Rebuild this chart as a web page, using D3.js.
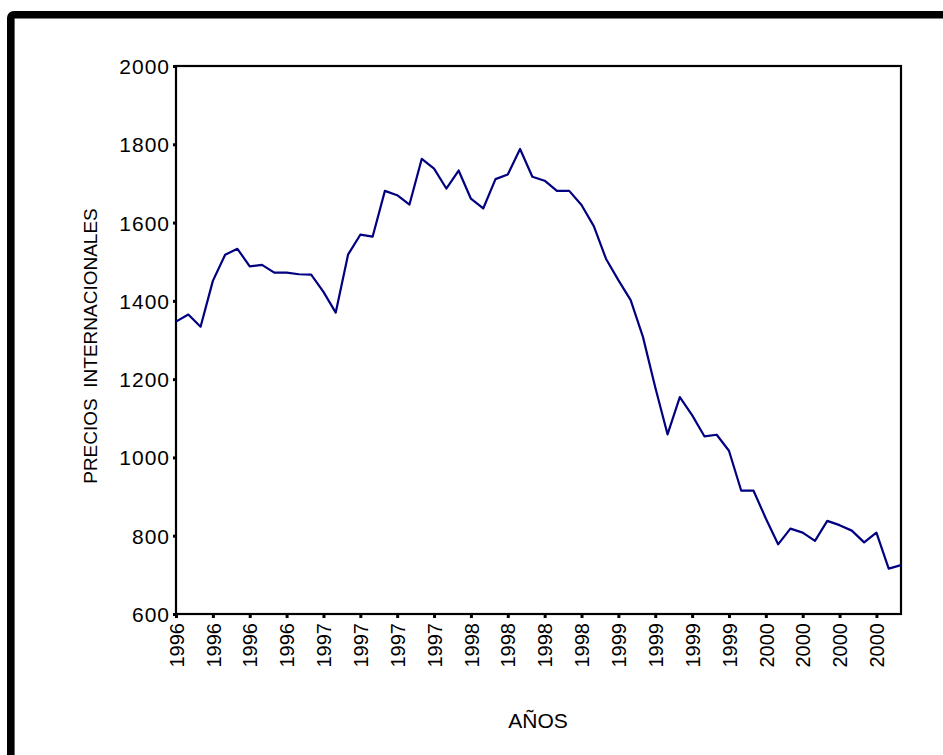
<!DOCTYPE html>
<html>
<head>
<meta charset="utf-8">
<script src="https://cdn.jsdelivr.net/npm/d3@7"></script>
<style>
  html, body { margin: 0; padding: 0; background: #fff; }
  svg { display: block; }
  text { font-family: "Liberation Sans", Arial, sans-serif; fill: #000; }
</style>
</head>
<body>
<svg id="chart" width="943" height="755"></svg>
<script>
// Monthly international prices, Jan 1996 – Dec 2000
const months = d3.range(60);
const prices = [
  1347, 1365, 1334, 1451, 1518, 1533, 1488, 1492, 1472, 1472, 1468, 1467,
  1423, 1370, 1518, 1569, 1564, 1681, 1670, 1646, 1763, 1738, 1687, 1733,
  1661, 1636, 1711, 1723, 1788, 1717, 1707, 1681, 1681, 1645, 1591, 1507,
  1453, 1402, 1308, 1179, 1059, 1154, 1108, 1054, 1058, 1017, 915, 915,
  844, 778, 818, 808, 787, 838, 827, 813, 783, 808, 716, 725
];
// Quarterly tick positions (month index) and their labels
const tickMonths = d3.range(0, 60, 3);
const tickLabels = [
  "1996", "1996", "1996", "1996",
  "1997", "1997", "1997", "1997",
  "1998", "1998", "1998", "1998",
  "1999", "1999", "1999", "1999",
  "2000", "2000", "2000", "2000"
];
const yTicks = [600, 800, 1000, 1200, 1400, 1600, 1800, 2000];

const svg = d3.select("#chart");
const plotLeft = 176, plotRight = 901, plotTop = 66, plotBottom = 614;

const x = d3.scaleLinear().domain([0, 59]).range([plotLeft, plotRight]);
const y = d3.scaleLinear().domain([600, 2000]).range([plotBottom, plotTop]);

// outer frame
svg.append("rect")
  .attr("x", 10.8).attr("y", 14.8)
  .attr("width", 1000).attr("height", 1000)
  .attr("rx", 3)
  .attr("fill", "none")
  .attr("stroke", "#000")
  .attr("stroke-width", 7.6);

// y axis
const yAxis = svg.append("g")
  .attr("transform", `translate(${plotLeft},0)`)
  .call(d3.axisLeft(y).tickValues(yTicks).tickSize(3).tickPadding(3).tickFormat(d3.format("d")));
yAxis.select(".domain").remove();
yAxis.selectAll(".tick line").attr("stroke", "#000").attr("stroke-width", 3);
yAxis.selectAll(".tick text")
  .style("font-size", "21px")
  .style("letter-spacing", "1px")
  .attr("dy", "0.36em");

// x axis
const xAxis = svg.append("g")
  .attr("transform", `translate(0,${plotBottom})`)
  .call(d3.axisBottom(x).tickValues(tickMonths).tickSize(4)
    .tickFormat((d, i) => tickLabels[i]));
xAxis.select(".domain").remove();
xAxis.selectAll(".tick line").attr("stroke", "#000").attr("stroke-width", 3);
xAxis.selectAll(".tick text")
  .style("font-size", "20px")
  .attr("text-anchor", "end")
  .attr("transform", "rotate(-90)")
  .attr("x", -9)
  .attr("y", 0)
  .attr("dy", "0.36em");

// plot frame
svg.append("rect")
  .attr("x", plotLeft).attr("y", plotTop)
  .attr("width", plotRight - plotLeft).attr("height", plotBottom - plotTop)
  .attr("fill", "none")
  .attr("stroke", "#000")
  .attr("stroke-width", 2.2);

// price line
const line = d3.line()
  .x((d, i) => x(months[i]))
  .y(d => y(d));
svg.append("path")
  .datum(prices)
  .attr("d", line)
  .attr("fill", "none")
  .attr("stroke", "#000080")
  .attr("stroke-width", 2.2)
  .attr("stroke-linejoin", "round");

// axis titles
svg.append("text")
  .attr("transform", "translate(97,346) rotate(-90)")
  .attr("text-anchor", "middle")
  .style("font-size", "19px")
  .style("white-space", "pre")
  .text("PRECIOS  INTERNACIONALES");

svg.append("text")
  .attr("x", 538).attr("y", 728)
  .attr("text-anchor", "middle")
  .style("font-size", "21px")
  .text("AÑOS");
</script>
</body>
</html>
